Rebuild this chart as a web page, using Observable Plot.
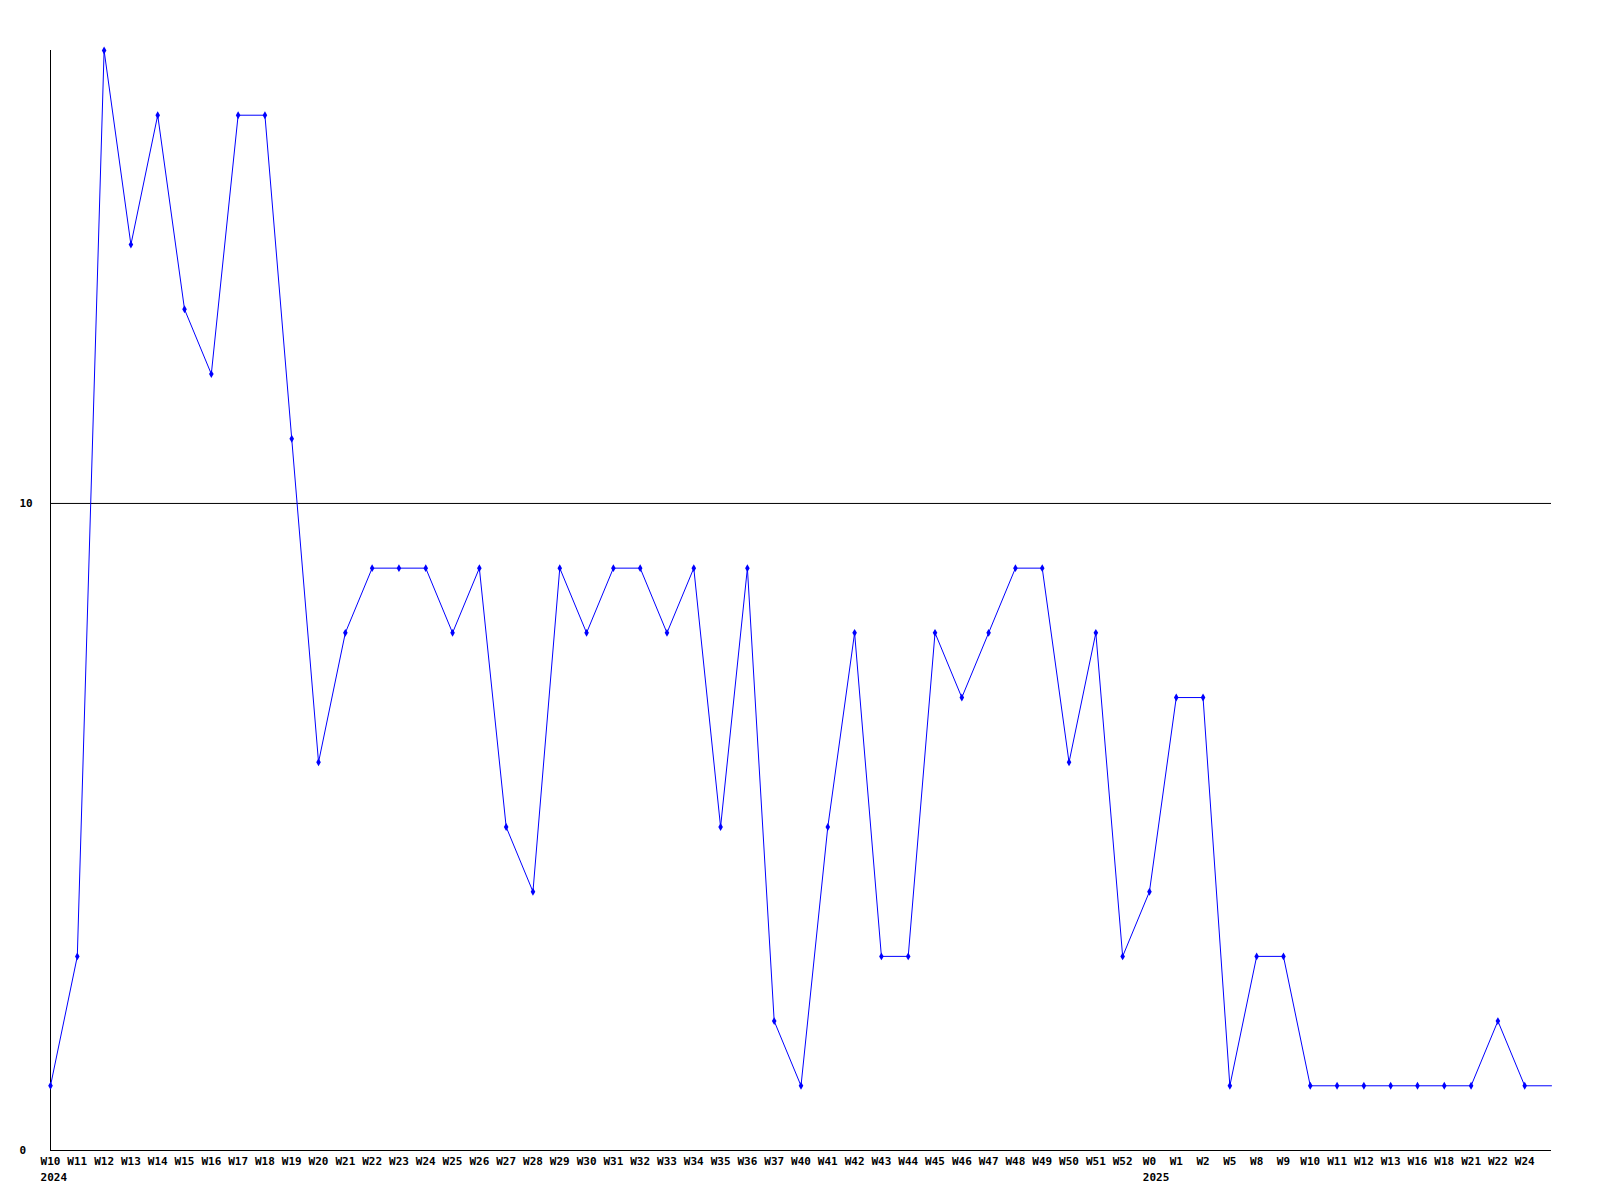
<!DOCTYPE html>
<html>
<head>
<meta charset="utf-8">
<script src="https://cdn.jsdelivr.net/npm/d3@7"></script>
<script src="https://cdn.jsdelivr.net/npm/@observablehq/plot@0.6"></script>
<style>
  html, body { margin: 0; padding: 0; background: #fff; }
</style>
</head>
<body>
<div id="chart"></div>
<script>
const weeks2024 = ["W10","W11","W12","W13","W14","W15","W16","W17","W18","W19","W20","W21","W22","W23","W24","W25","W26","W27","W28","W29","W30","W31","W32","W33","W34","W35","W36","W37","W40","W41","W42","W43","W44","W45","W46","W47","W48","W49","W50","W51","W52"];
const counts2024 = [1,3,17,14,16,13,12,16,16,11,6,8,9,9,9,8,9,5,4,9,8,9,9,8,9,5,9,2,1,5,8,3,3,8,7,8,9,9,6,8,3];
const weeks2025 = ["W0","W1","W2","W5","W8","W9","W10","W11","W12","W13","W16","W18","W21","W22","W24"];
const counts2025 = [4,7,7,1,3,3,1,1,1,1,1,1,1,2,1];
// unlabeled trailing slot: the line runs on flat to the right edge without a marker
const tailCounts = [1];
const yearLabels = ["2024","2025"];
const yTicks = [0, 10];

const data = [
  ...weeks2024.map((w, i) => ({key: "2024-" + w, week: w, year: yearLabels[0], value: counts2024[i], first: i === 0})),
  ...weeks2025.map((w, i) => ({key: "2025-" + w, week: w, year: yearLabels[1], value: counts2025[i], first: i === 0}))
];
const tail = tailCounts.map((v, i) => ({key: "tail-" + i, week: "", year: "", value: v, first: false}));
const lineData = [...data, ...tail];
const keys = lineData.map(d => d.key);
const weekOf = new Map(lineData.map(d => [d.key, d.week]));
const charW = 6.6; // advance of 11px DejaVu Sans Mono

// year labels are left-aligned with the start of the first week label of the year
const yearMarks = data.filter(d => d.first).map(d =>
  Plot.text([d], {x: "key", text: "year", frameAnchor: "bottom", dy: 30, dx: -d.week.length * charW / 2, textAnchor: "start", fill: "#000"})
);

const chart = Plot.plot({
  width: 1600,
  height: 1200,
  marginLeft: 50,
  marginRight: 49,
  marginTop: 50,
  marginBottom: 50,
  style: {fontFamily: "'DejaVu Sans Mono', monospace", fontWeight: "bold", fontSize: "11px", color: "#000", background: "#fff"},
  x: {type: "point", domain: keys, padding: 0, round: false},
  y: {domain: [0, 17]},
  marks: [
    Plot.ruleY(yTicks.filter(t => t > 0), {stroke: "#000", strokeWidth: 1}),
    Plot.ruleY([0], {stroke: "#000", strokeWidth: 1}),
    Plot.ruleX([keys[0]], {y1: 0, y2: 17, stroke: "#000", strokeWidth: 1}),
    Plot.axisY({ticks: yTicks, tickSize: 0, tickPadding: 31, textAnchor: "start", label: null, fill: "#000"}),
    Plot.axisX({ticks: data.map(d => d.key), tickSize: 0, tickPadding: 7, tickFormat: k => weekOf.get(k), label: null, fill: "#000"}),
    ...yearMarks,
    Plot.line(lineData, {x: "key", y: "value", stroke: "#0000ff", strokeWidth: 1}),
    Plot.dot(data, {x: "key", y: "value", symbol: "diamond", r: 2.4, fill: "#0000ff", stroke: "none"})
  ]
});
document.getElementById("chart").appendChild(chart);
</script>
</body>
</html>
